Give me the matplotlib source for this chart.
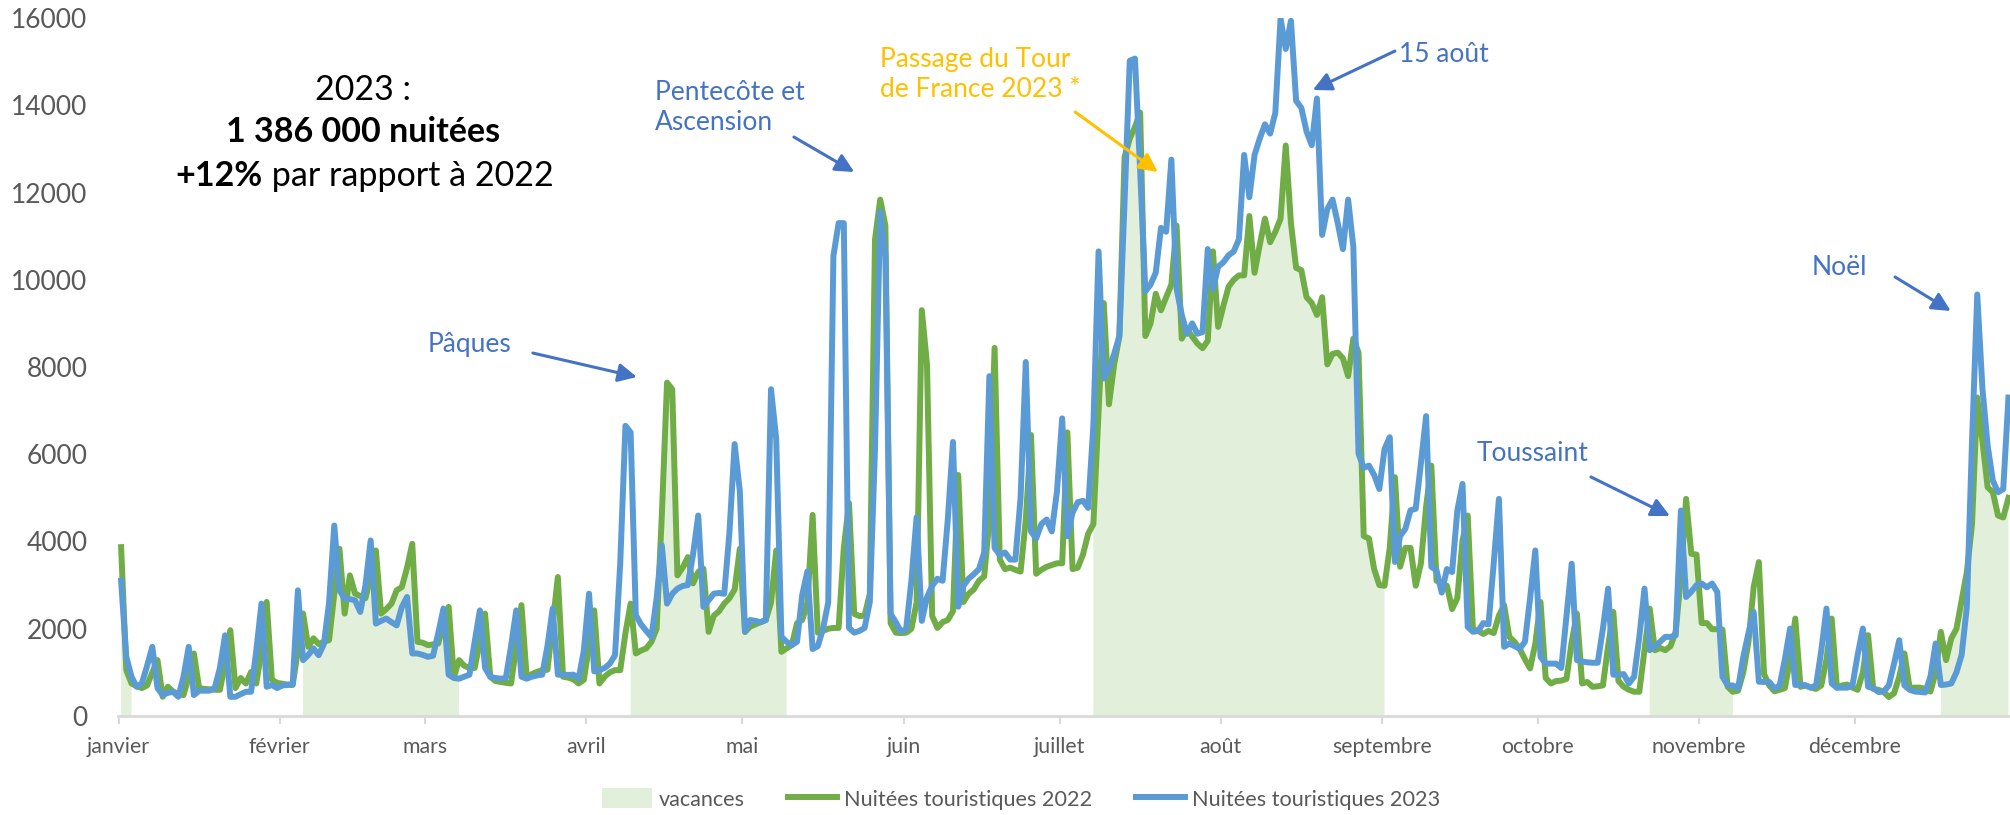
import numpy as np
import matplotlib.pyplot as plt
from matplotlib.patches import Patch
from matplotlib.lines import Line2D

plt.rcParams['font.family'] = ['Lato', 'DejaVu Sans']

# ---------------- donnees ----------------
mois = ['janvier', 'février', 'mars', 'avril', 'mai', 'juin', 'juillet',
        'août', 'septembre', 'octobre', 'novembre', 'décembre']
debut_mois = [0, 31, 59, 90, 120, 151, 181, 212, 243, 273, 304, 334]

# periodes de vacances scolaires (jour de debut, jour de fin, index depuis le 1er janvier)
vacances = [(0, 2), (35, 65), (98, 128), (187, 243), (294, 310), (350, 363)]

# nuitees touristiques journalieres, 1er janvier -> 30 decembre
nuitees_2022 = [
    3870, 1052, 745, 680, 640, 700, 1000, 1280, 440, 670,
    560, 500, 480, 900, 1433, 640, 620, 610, 600, 600,
    1200, 1966, 640, 870, 745, 1010, 745, 1500, 2614, 830,
    760, 740, 720, 710, 1500, 2347, 1585, 1780, 1650, 1700,
    1740, 2800, 3833, 2347, 3223, 2805, 2750, 2700, 3200, 3794,
    2347, 2450, 2576, 2880, 2957, 3400, 3947, 1700, 1680, 1625,
    1640, 1660, 2100, 2500, 900, 1280, 1150, 1100, 1100, 1700,
    2347, 900, 800, 780, 760, 745, 1600, 2540, 900, 960,
    1010, 1050, 1060, 2100, 3185, 900, 880, 840, 745, 830,
    1600, 2420, 745, 900, 1000, 1050, 1050, 1900, 2576, 1433,
    1500, 1550, 1700, 2000, 4600, 7643, 7490, 3223, 3400, 3642,
    3040, 3300, 3375, 1928, 2300, 2400, 2576, 2700, 2900, 3833,
    1928, 2050, 2100, 2150, 2200, 2600, 3794, 1470, 1550, 1625,
    2126, 2200, 2600, 4609, 1910, 1950, 2000, 2018, 2018, 3853,
    4878, 2343, 2290, 2300, 2800, 10920, 11837, 11243, 2126, 1910,
    1900, 1910, 2000, 2600, 9302, 8060, 2290, 2018, 2150, 2200,
    2400, 5525, 2613, 2800, 2900, 3100, 3200, 4500, 8438, 3585,
    3367, 3400, 3350, 3310, 4500, 6442, 3260, 3350, 3420, 3460,
    3500, 3500, 6500, 3367, 3400, 3700, 4177, 4400, 6982, 9464,
    7144, 8060, 8700, 12808, 13237, 13500, 13833, 8710, 9000, 9679,
    9300, 9600, 9890, 11243, 8650, 8870, 8700, 8540, 8430, 8600,
    10650, 8920, 9400, 9840, 10000, 10100, 10100, 11460, 10160, 10800,
    11400, 10860, 11100, 11400, 13078, 11300, 10270, 10220, 9600, 9470,
    9194, 9600, 8060, 8300, 8330, 8200, 7790, 8650, 8330, 4124,
    4070, 3367, 3000, 2985, 3853, 5473, 3420, 3853, 3853, 2985,
    3500, 4800, 5740, 3100, 3036, 2985, 2450, 2700, 4023, 4595,
    1990, 1950, 1880, 1950, 1900, 2300, 2540, 1813, 1700, 1540,
    1300, 1090, 1660, 2614, 870, 745, 800, 810, 850, 1700,
    2347, 745, 780, 670, 680, 700, 1600, 2385, 800, 670,
    600, 555, 555, 1500, 2462, 1508, 1560, 1508, 1600, 1930,
    3200, 4976, 3718, 3700, 2130, 2130, 1990, 1990, 1980, 670,
    555, 580, 1000, 1700, 2957, 3528, 960, 700, 565, 600,
    640, 1300, 2233, 670, 700, 650, 620, 700, 1300, 2233,
    650, 700, 720, 650, 600, 1000, 1852, 620, 600, 550,
    435, 520, 900, 1433, 640, 650, 650, 620, 560, 1000,
    1928, 1280, 1775, 2000, 2652, 3300, 4404, 7300, 6309, 5243,
    5128, 4595, 4550, 5000,
]

nuitees_2023 = [
    3100, 1356, 900, 670, 750, 1150, 1585, 640, 480, 530,
    555, 440, 900, 1585, 480, 580, 580, 580, 640, 1100,
    1850, 440, 440, 500, 555, 555, 1500, 2576, 670, 710,
    640, 700, 710, 730, 2880, 1280, 1400, 1547, 1394, 1650,
    2600, 4366, 2880, 2690, 2680, 2650, 2385, 3000, 4023, 2118,
    2180, 2233, 2150, 2077, 2500, 2729, 1433, 1433, 1400, 1356,
    1380, 1900, 2462, 947, 870, 855, 900, 947, 1700, 2420,
    1100, 900, 870, 855, 870, 1600, 2420, 900, 855, 900,
    930, 947, 1600, 2462, 947, 947, 940, 947, 855, 1500,
    2804, 1023, 1050, 1100, 1200, 1394, 3500, 6652, 6500, 2310,
    2100, 1950, 1813, 2700, 3910, 2576, 2800, 2919, 2980, 3000,
    3700, 4595, 2500, 2650, 2804, 2820, 2800, 4200, 6233, 5156,
    1928, 2200, 2180, 2150, 2200, 7490, 6350, 1813, 1700, 1625,
    1700, 2775, 3315, 1534, 1600, 2000, 2600, 10543, 11298, 11298,
    2018, 1910, 1950, 2018, 2613, 6120, 11567, 10543, 2343, 2150,
    1930, 2000, 3098, 4554, 2180, 2720, 2985, 3146, 3100, 4503,
    6282, 2505, 2985, 3146, 3250, 3367, 3747, 7790, 3853, 3693,
    3747, 3585, 3585, 5000, 8115, 4231, 4070, 4400, 4503, 4231,
    5148, 6822, 4120, 4663, 4900, 4933, 4770, 6659, 10650, 7738,
    7950, 8300, 8710, 11800, 15019, 15070, 12500, 9734, 9890, 10164,
    11190, 11100, 12754, 9800, 9194, 8762, 9000, 8762, 8800, 10703,
    9787, 10300, 10400, 10560, 10650, 10930, 12861, 11892, 12861, 13237,
    13563, 13350, 13833, 15990, 15290, 15936, 14102, 13940, 13400, 13085,
    14155, 11028, 11622, 11837, 11300, 10700, 11837, 10757, 6012, 5688,
    5740, 5525, 5203, 6120, 6390, 3530, 4124, 4290, 4716, 4750,
    5795, 6874, 3420, 3340, 2828, 3367, 3300, 4709, 5319, 2042,
    1930, 1950, 2130, 2100, 3500, 4976, 1585, 1660, 1600, 1540,
    1700, 2700, 3795, 1356, 1200, 1200, 1200, 1100, 2300, 3490,
    1280, 1250, 1230, 1220, 1220, 2000, 2919, 947, 950, 960,
    745, 900, 1800, 2919, 1508, 1600, 1700, 1813, 1813, 1850,
    4709, 2728, 2850, 3000, 3036, 2950, 3036, 2843, 900, 700,
    700, 633, 1356, 1900, 2385, 785, 780, 780, 633, 700,
    1300, 2004, 710, 720, 700, 650, 700, 1500, 2461, 745,
    650, 650, 650, 700, 1400, 2004, 670, 640, 550, 560,
    700, 1200, 1737, 700, 600, 560, 550, 540, 900, 1661,
    710, 720, 745, 1000, 1400, 2500, 6309, 9663, 7500, 6200,
    5395, 5128, 5200, 7300,
]

# ---------------- couleurs ----------------
VERT = '#70AD47'
BLEU = '#5B9BD5'
FOND_VAC = '#E2EFDA'
BLEU_TXT = '#4472C4'
ORANGE = '#FFC000'
GRIS = '#595959'

jours = np.arange(len(nuitees_2023))
v22 = np.array(nuitees_2022)
v23 = np.array(nuitees_2023)

en_vacances = np.zeros(len(jours), dtype=bool)
for a, b in vacances:
    en_vacances[a:b + 1] = True

fig = plt.figure(figsize=(20.1, 8.15), dpi=100)
ax = fig.add_axes([0.0587, 0.1215, 0.9413, 0.8564])

ax.fill_between(jours, 0, v22, where=en_vacances, color=FOND_VAC, lw=0, zorder=1)
ax.plot(jours, v22, color=VERT, lw=4.3, solid_joinstyle='round', zorder=2)
ax.plot(jours, v23, color=BLEU, lw=4.3, solid_joinstyle='round', zorder=3)

ax.set_xlim(-0.6, 363.3)
ax.set_ylim(0, 16000)
ax.set_yticks(range(0, 16001, 2000))
ax.set_xticks(np.array(debut_mois) - 0.5)
ax.set_xticklabels(mois)
ax.tick_params(axis='x', length=6, width=1.5, color='#D9D9D9', pad=9,
               labelsize=15.3, labelcolor=GRIS)
ax.tick_params(axis='y', length=0, pad=22, labelsize=19, labelcolor=GRIS)
for s in ['left', 'top', 'right']:
    ax.spines[s].set_visible(False)
ax.spines['bottom'].set_color('#D9D9D9')
ax.spines['bottom'].set_linewidth(2)

# ---------------- textes ----------------
ax.text(46.5, 14350, '2023 :', ha='center', va='center', fontsize=24.5, color='black')
ax.text(46.5, 13387, '1 386 000 nuitées', ha='center', va='center', fontsize=24.5,
        fontweight='bold', color='black')
ax.text(27.2, 12378, '+12%', ha='right', va='center', fontsize=24.5,
        fontweight='bold', color='black')
ax.text(27.2, 12378, ' par rapport à 2022', ha='left', va='center', fontsize=24.5,
        color='black')


def fleche(txt, xy_txt, xy_tail, xy_head, couleur, **kw):
    ax.text(*xy_txt, txt, color=couleur, fontsize=19, va='center', **kw)
    ax.annotate('', xy=xy_head, xytext=xy_tail,
                arrowprops=dict(arrowstyle='-|>', color=couleur, lw=2.2,
                                mutation_scale=28, shrinkA=0, shrinkB=0))


fleche('Pâques', (67.1, 8527), (79.2, 8320), (99.2, 7770), BLEU_TXT, ha='center')
fleche('Pentecôte et\nAscension', (102.7, 13960), (129.4, 13272), (141.0, 12470),
       BLEU_TXT, ha='left', linespacing=1.25)
fleche('Passage du Tour\nde France 2023 *', (146.0, 14716), (183.5, 13845),
       (199.4, 12470), ORANGE, ha='left', linespacing=1.25)
fleche('15 août', (245.8, 15160), (245.0, 15243), (229.2, 14350), BLEU_TXT, ha='left')
fleche('Noël', (330.5, 10292), (341.2, 10063), (351.9, 9284), BLEU_TXT, ha='center')
fleche('Toussaint', (271.5, 6006), (282.7, 5479), (297.9, 4585), BLEU_TXT, ha='center')

# ---------------- legende ----------------
poignees = [Patch(facecolor=FOND_VAC, edgecolor='none'),
            Line2D([], [], color=VERT, lw=4.3),
            Line2D([], [], color=BLEU, lw=4.3)]
etiquettes = ['vacances', 'Nuitées touristiques 2022', 'Nuitées touristiques 2023']
fig.legend(poignees, etiquettes, loc='center', bbox_to_anchor=(0.508, 0.0196),
           ncol=3, frameon=False, fontsize=15.6, labelcolor=GRIS,
           handlelength=2.3, handleheight=1.0, handletextpad=0.3, columnspacing=2.0)

fig.savefig('out.png', dpi=100)
